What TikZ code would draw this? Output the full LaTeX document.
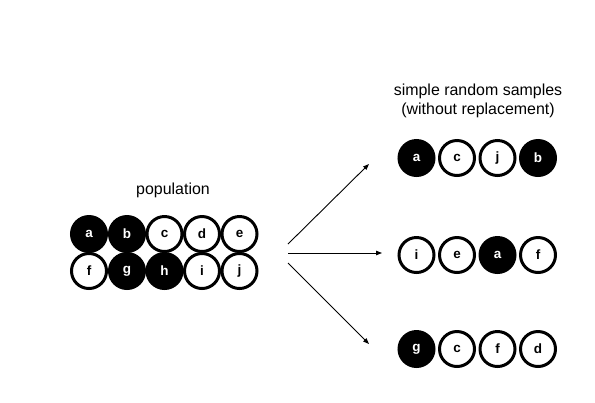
\documentclass[tikz,border=0pt]{standalone}
\usepackage{fontspec}
\setmainfont{Liberation Sans}
\usetikzlibrary{arrows.meta}
\begin{document}
\begin{tikzpicture}[x=1bp,y=-1bp,
  ball/.style={circle,draw=black,line width=3bp,minimum size=35bp,inner sep=0pt,font=\fontsize{13.5}{15}\selectfont\bfseries},
  wball/.style={ball,fill=white,text=black},
  bball/.style={ball,fill=black,text=white},
  lbl/.style={font=\fontsize{16}{19}\selectfont,align=center},
  arr/.style={line width=0.9bp,-{Triangle[length=6bp,width=4.5bp]}}]
\useasboundingbox (0,0) rectangle (595,402);
% population
\node[lbl] (poptitle) at (173,190) {population};
\node[bball] (pa) at (89,234) {a};
\node[bball] (pb) at (127,234) {b};
\node[wball] (pc) at (164.5,234) {c};
\node[wball] (pd) at (202,234) {d};
\node[wball] (pe) at (239.5,234) {e};
\node[wball] (pf) at (89,271) {f};
\node[bball] (pg) at (127,271) {g};
\node[bball] (ph) at (164.5,271) {h};
\node[wball] (pi) at (202,271) {i};
\node[wball] (pj) at (239.5,271) {j};
% samples title
\node[lbl] (stitle) at (478,101) {simple random samples\\(without replacement)};
% sample 1
\node[bball] (s1a) at (416.5,158) {a};
\node[wball] (s1b) at (457,158) {c};
\node[wball] (s1c) at (497.5,158) {j};
\node[bball] (s1d) at (538,158) {b};
% sample 2
\node[wball] (s2a) at (416.5,255) {i};
\node[wball] (s2b) at (457,255) {e};
\node[bball] (s2c) at (497.5,255) {a};
\node[wball] (s2d) at (538,255) {f};
% sample 3
\node[bball] (s3a) at (416.5,349) {g};
\node[wball] (s3b) at (457,349) {c};
\node[wball] (s3c) at (497.5,349) {f};
\node[wball] (s3d) at (538,349) {d};
% arrows
\coordinate (o1) at (288,244);
\coordinate (o2) at (288,253);
\coordinate (o3) at (288,263);
\coordinate (t1) at (369,164);
\coordinate (t2) at (382,253);
\coordinate (t3) at (369,344);
\draw[arr] (o1) -- (t1);
\draw[arr] (o2) -- (t2);
\draw[arr] (o3) -- (t3);
\end{tikzpicture}
\end{document}
